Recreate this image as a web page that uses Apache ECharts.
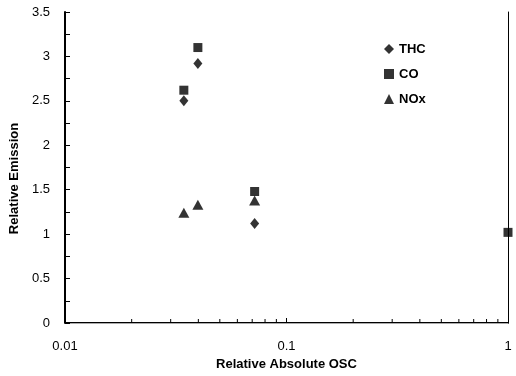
<!DOCTYPE html>
<html>
<head>
<meta charset="utf-8">
<script src="https://cdn.jsdelivr.net/npm/echarts@6/dist/echarts.min.js"></script>
<style>
  html, body { margin: 0; padding: 0; background: #fff; }
  #chart { width: 516px; height: 376px; }
</style>
</head>
<body>
<div id="chart"></div>
<script>
// data
const thc = [[0.0344, 2.50], [0.0398, 2.92], [0.0718, 1.12]];
const co = [[0.0344, 2.62], [0.0398, 3.10], [0.0718, 1.48], [1, 1.02]];
const nox = [[0.0344, 1.24], [0.0398, 1.33], [0.0718, 1.38]];
// minor tick positions on the log axis
const minorX = [0.02, 0.03, 0.04, 0.05, 0.06, 0.07, 0.08, 0.09,
                0.2, 0.3, 0.4, 0.5, 0.6, 0.7, 0.8, 0.9];

const font = 'Liberation Sans, Arial, sans-serif';
const chart = echarts.init(document.getElementById('chart'), null, { renderer: 'canvas' });

const option = {
    animation: false,
    backgroundColor: '#fff',
    textStyle: { fontFamily: font },
    grid: { left: 65, right: 8, top: 12, bottom: 51, containLabel: false },
    legend: {
        orient: 'vertical',
        left: 379,
        top: 37,
        itemWidth: 10,
        itemHeight: 10,
        itemGap: 11,
        textStyle: { fontFamily: font, fontSize: 13, fontWeight: 'bold', color: '#000', lineHeight: 14 },
        data: [
            { name: 'THC', icon: 'diamond' },
            { name: 'CO', icon: 'rect' },
            { name: 'NOx', icon: 'triangle' }
        ]
    },
    xAxis: [{
        type: 'log',
        logBase: 10,
        min: 0.01,
        max: 1,
        name: 'Relative Absolute OSC',
        nameLocation: 'middle',
        nameGap: 35,
        nameTextStyle: { fontFamily: font, fontSize: 13, fontWeight: 'bold', color: '#000' },
        axisLine: { lineStyle: { color: '#000', width: 2 } },
        axisTick: { show: true, inside: true, length: 5, lineStyle: { color: '#000' } },
        axisLabel: { fontFamily: font, fontSize: 13, color: '#000', margin: 17,
            formatter: function (v) { return String(+v.toPrecision(3)); } },
        splitLine: { show: false }
    }, {
        type: 'log',
        logBase: 10,
        min: 0.01,
        max: 1,
        position: 'top',
        axisLine: { lineStyle: { color: '#aaa', width: 1 } },
        axisTick: { show: false },
        axisLabel: { show: false },
        splitLine: { show: false }
    }],
    yAxis: [{
        type: 'value',
        min: 0,
        max: 3.5,
        interval: 0.5,
        name: 'Relative Emission',
        nameLocation: 'middle',
        nameGap: 42,
        nameTextStyle: { fontFamily: font, fontSize: 13, fontWeight: 'bold', color: '#000',
            padding: [0, 22, 0, 0] },
        axisLine: { show: true, lineStyle: { color: '#000', width: 2 } },
        axisTick: { show: true, inside: true, length: 5, lineStyle: { color: '#000' } },
        minorTick: { show: true, splitNumber: 2, length: 5, lineStyle: { color: '#000' } },
        axisLabel: { fontFamily: font, fontSize: 13, color: '#000', margin: 15 },
        splitLine: { show: false },
        minorSplitLine: { show: false }
    }, {
        type: 'value',
        min: 0,
        max: 3.5,
        position: 'right',
        axisLine: { show: true, lineStyle: { color: '#000', width: 1 } },
        axisTick: { show: false },
        axisLabel: { show: false },
        splitLine: { show: false }
    }],
    series: [{
        name: 'THC',
        type: 'scatter',
        symbol: 'diamond',
        symbolSize: [9, 11],
        itemStyle: { color: '#000' },
        data: thc
    }, {
        name: 'CO',
        type: 'scatter',
        symbol: 'rect',
        symbolSize: 9,
        itemStyle: { color: '#000' },
        data: co
    }, {
        name: 'NOx',
        type: 'scatter',
        symbol: 'triangle',
        symbolSize: [11, 10],
        itemStyle: { color: '#000' },
        data: nox
    }, {
        // log-scale minor ticks on the bottom axis
        type: 'custom',
        silent: true,
        clip: false,
        data: minorX.map(function (v) { return [v, 0]; }),
        renderItem: function (params, api) {
            const p = api.coord([api.value(0), 0]);
            return {
                type: 'line',
                shape: { x1: p[0], y1: p[1], x2: p[0], y2: p[1] - 4 },
                style: { stroke: '#000', lineWidth: 1 }
            };
        }
    }]
};

chart.setOption(option);
</script>
</body>
</html>
